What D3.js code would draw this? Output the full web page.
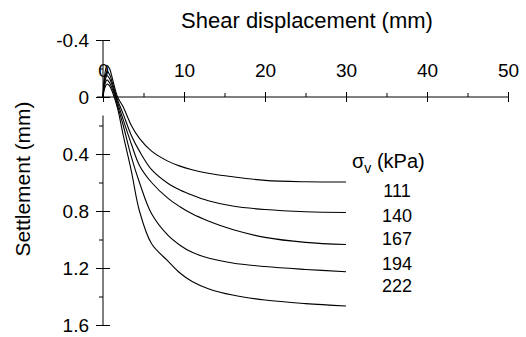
<!DOCTYPE html>
<html>
<head>
<meta charset="utf-8">
<script src="https://cdn.jsdelivr.net/npm/d3@7"></script>
<style>
  body { margin: 0; background: #fff; }
  text { font-family: "Liberation Sans", Arial, sans-serif; fill: #000; }
</style>
</head>
<body>
<div id="chart"></div>
<script>
var W = 526, H = 337;

// shear displacement (mm), shared by every curve
var disp = [0, 0.2, 0.5, 0.8, 1.2, 1.8, 2.5, 3.5, 4.5, 6, 8, 9.5, 11, 13, 16, 20, 25, 30];

// settlement (mm) for each normal stress
var s111 = [0, -0.15, -0.22, -0.2, -0.12, 0.0, 0.07, 0.2, 0.29, 0.38, 0.45, 0.485, 0.51, 0.535, 0.56, 0.585, 0.595, 0.597];
var s140 = [0, -0.12, -0.18, -0.16, -0.09, 0.02, 0.12, 0.27, 0.38, 0.51, 0.605, 0.652, 0.688, 0.728, 0.765, 0.79, 0.805, 0.81];
var s167 = [0, -0.1, -0.15, -0.13, -0.07, 0.04, 0.16, 0.33, 0.48, 0.6, 0.71, 0.77, 0.82, 0.87, 0.93, 0.985, 1.02, 1.035];
var s194 = [0, -0.08, -0.12, -0.1, -0.05, 0.06, 0.2, 0.42, 0.6, 0.82, 0.97, 1.04, 1.09, 1.13, 1.165, 1.19, 1.21, 1.226];
var s222 = [0, -0.06, -0.09, -0.08, -0.03, 0.08, 0.27, 0.52, 0.8, 1.03, 1.15, 1.235, 1.295, 1.345, 1.39, 1.425, 1.45, 1.467];

var stresses = ['111', '140', '167', '194', '222'];
var series = [s111, s140, s167, s194, s222];

var xTicks = [0, 10, 20, 30, 40, 50];
var xMinor = [5, 15, 25, 35, 45];
var yTicks = [-0.4, 0, 0.4, 0.8, 1.2, 1.6];
var yMinor = [-0.2, 0.2, 0.6, 1.0, 1.4];

var svg = d3.select('#chart').append('svg')
  .attr('width', W)
  .attr('height', H);

var x = d3.scaleLinear().domain([0, 50]).range([103, 508]);
var y = d3.scaleLinear().domain([-0.4, 1.6]).range([40, 325]);

// x axis, labels above
var xg = svg.append('g')
  .attr('transform', 'translate(0,' + y(0) + ')')
  .call(d3.axisTop(x).tickValues(xTicks).tickSize(5).tickPadding(20)
    .tickFormat(function(d) { return String(d); }));
xg.select('.domain').remove();
xg.selectAll('.tick line').attr('y1', 5).attr('stroke', '#000');
xg.selectAll('.tick text').style('font-size', '19px').attr('dy', 0).attr('y', -20);
xg.append('line')
  .attr('x1', x(0) - 6).attr('x2', x(50))
  .attr('stroke', '#000');

var xm = svg.append('g')
  .attr('transform', 'translate(0,' + y(0) + ')')
  .call(d3.axisTop(x).tickValues(xMinor).tickSize(4).tickFormat(''));
xm.select('.domain').remove();

// y axis
var yg = svg.append('g')
  .attr('transform', 'translate(' + x(0) + ',0)')
  .call(d3.axisLeft(y).tickValues(yTicks).tickSize(7).tickPadding(7)
    .tickFormat(function(d) { return d === 0 ? '0' : d.toFixed(1); }));
yg.select('.domain').remove();
yg.selectAll('.tick line').attr('x1', 7).attr('stroke', '#000');
yg.selectAll('.tick text').style('font-size', '19px');
// the y axis line is broken just below 0
yg.append('line').attr('y1', y(-0.4)).attr('y2', y(0)).attr('stroke', '#000');
yg.append('line').attr('y1', y(0.13)).attr('y2', y(1.6)).attr('stroke', '#000');

var ym = svg.append('g')
  .attr('transform', 'translate(' + x(0) + ',0)')
  .call(d3.axisLeft(y).tickValues(yMinor).tickSize(4).tickFormat(''));
ym.select('.domain').remove();

// titles
svg.append('text')
  .attr('x', 307).attr('y', 28)
  .attr('text-anchor', 'middle')
  .style('font-size', '22px')
  .text('Shear displacement (mm)');

svg.append('text')
  .attr('transform', 'translate(30,179) rotate(-90)')
  .attr('text-anchor', 'middle')
  .style('font-size', '21px')
  .text('Settlement (mm)');

// curves
var line = d3.line()
  .x(function(d, i) { return x(disp[i]); })
  .y(function(d) { return y(d); })
  .curve(d3.curveCatmullRom);

svg.selectAll('path.curve')
  .data(series)
  .enter().append('path')
  .attr('class', 'curve')
  .attr('d', line)
  .attr('fill', 'none')
  .attr('stroke', '#000')
  .attr('stroke-width', 1.1);

// legend
var lt = svg.append('text')
  .attr('x', 352).attr('y', 168)
  .style('font-size', '20px');
lt.append('tspan').text('\u03c3');
lt.append('tspan').attr('dy', 5).style('font-size', '14px').text('v');
lt.append('tspan').attr('dy', -5).text(' (kPa)');

var legY = [197, 222, 245, 270, 292];
svg.selectAll('text.lab')
  .data(stresses)
  .enter().append('text')
  .attr('class', 'lab')
  .attr('x', 397)
  .attr('y', function(d, i) { return legY[i]; })
  .attr('text-anchor', 'middle')
  .style('font-size', '18px')
  .text(function(d) { return d; });
</script>
</body>
</html>
